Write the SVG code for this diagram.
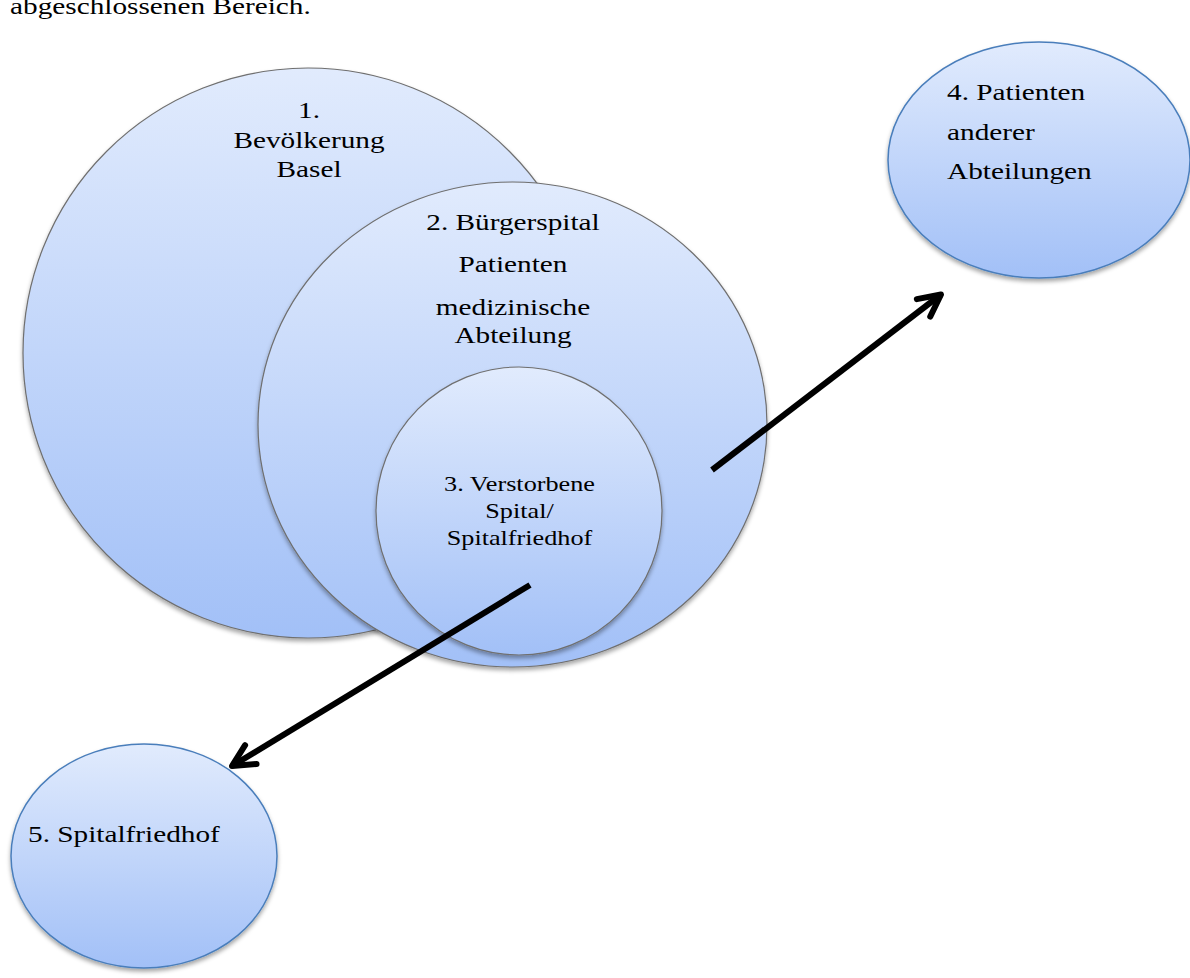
<svg xmlns="http://www.w3.org/2000/svg" width="1190" height="978" viewBox="0 0 1190 978">
<defs>
<linearGradient id="g" x1="0" y1="0" x2="0" y2="1">
<stop offset="0" stop-color="#e1ebfd"/>
<stop offset="1" stop-color="#a2c0f7"/>
</linearGradient>
<filter id="sh" x="-10%" y="-10%" width="120%" height="125%">
<feDropShadow dx="0" dy="3" stdDeviation="2" flood-color="#000" flood-opacity="0.35"/>
</filter>
<marker id="ah" markerUnits="userSpaceOnUse" viewBox="-30 -20 40 40" refX="0" refY="0" markerWidth="40" markerHeight="40" orient="auto">
<path d="M-22,-11 L0,0 L-22,11" fill="none" stroke="#000" stroke-width="6" stroke-linecap="round" stroke-linejoin="round"/>
</marker>
</defs>
<style>
.c{fill:url(#g);filter:url(#sh)}
.gray{stroke:#6f6f6f;stroke-width:1.2}
.blue{stroke:#4a7ebb;stroke-width:1.5}
.t{font-family:"Liberation Serif","Times New Roman",serif;font-size:24px;fill:#000}
.s{font-size:21.5px}
.arr{stroke:#000;stroke-width:6;fill:none;marker-end:url(#ah)}
</style>
<rect width="1190" height="978" fill="#fff"/>
<text class="t" transform="translate(10,14) scale(1.22,1)" font-size="26">abgeschlossenen Bereich.</text>
<g id="node1">
<ellipse class="c gray" cx="308" cy="353" rx="285" ry="285"/>
<text class="t" text-anchor="middle" transform="translate(309,118) scale(1.22,1)">1.</text>
<text class="t" text-anchor="middle" transform="translate(309,148) scale(1.22,1)">Bevölkerung</text>
<text class="t" text-anchor="middle" transform="translate(309,177) scale(1.22,1)">Basel</text>
</g>
<g id="node2">
<ellipse class="c gray" cx="512.5" cy="424.5" rx="254.5" ry="242.5"/>
<text class="t" text-anchor="middle" transform="translate(513,230) scale(1.22,1)">2. Bürgerspital</text>
<text class="t" text-anchor="middle" transform="translate(513,272) scale(1.22,1)">Patienten</text>
<text class="t" text-anchor="middle" transform="translate(513,315) scale(1.22,1)">medizinische</text>
<text class="t" text-anchor="middle" transform="translate(513,343) scale(1.22,1)">Abteilung</text>
</g>
<g id="node3">
<ellipse class="c gray" cx="519" cy="511" rx="143" ry="144"/>
<text class="t s" text-anchor="middle" transform="translate(519.5,491) scale(1.22,1)">3. Verstorbene</text>
<text class="t s" text-anchor="middle" transform="translate(519.5,518) scale(1.22,1)">Spital/</text>
<text class="t s" text-anchor="middle" transform="translate(519.5,545) scale(1.22,1)">Spitalfriedhof</text>
</g>
<g id="node4">
<ellipse class="c blue" cx="1039" cy="160" rx="151" ry="118"/>
<text class="t" transform="translate(947,100) scale(1.22,1)">4. Patienten</text>
<text class="t" transform="translate(947,140) scale(1.22,1)">anderer</text>
<text class="t" transform="translate(947,179) scale(1.22,1)">Abteilungen</text>
</g>
<g id="node5">
<ellipse class="c blue" cx="144" cy="856" rx="133" ry="112"/>
<text class="t" transform="translate(28,842) scale(1.22,1)">5. Spitalfriedhof</text>
</g>
<g id="connectors">
<line class="arr" x1="712" y1="470" x2="941" y2="294.5"/>
<line class="arr" x1="530" y1="585" x2="232" y2="766"/>
</g>
</svg>
